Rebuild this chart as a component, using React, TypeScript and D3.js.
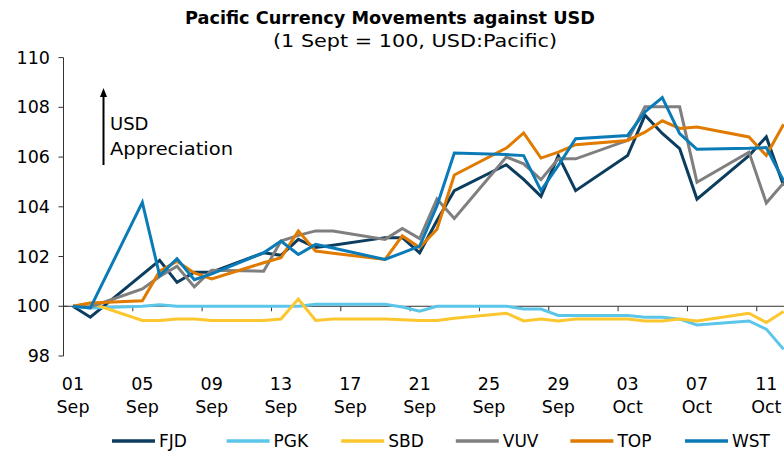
import React from 'react';
import * as d3 from 'd3';

const width = 784;
const height = 452;

// business days, 1 Sept = 100
const dates = [
  '2022-09-01', '2022-09-02', '2022-09-05', '2022-09-06', '2022-09-07', '2022-09-08', '2022-09-09',
  '2022-09-12', '2022-09-13', '2022-09-14', '2022-09-15', '2022-09-16', '2022-09-19', '2022-09-20',
  '2022-09-21', '2022-09-22', '2022-09-23', '2022-09-26', '2022-09-27', '2022-09-28', '2022-09-29',
  '2022-09-30', '2022-10-03', '2022-10-04', '2022-10-05', '2022-10-06', '2022-10-07', '2022-10-10',
  '2022-10-11', '2022-10-12',
];

const fjd = [100, 99.56, null, 101.85, 100.96, 101.37, 101.37, 102.15, 102.05, 102.69, 102.36, 102.45,
  102.76, 102.76, 102.15, 103.45, 104.65, 105.69, 105.1, 104.42, 106.06, 104.65, 106.06, 107.68,
  106.95, 106.34, 104.31, 106.06, 106.81, 104.85];
const pgk = [100, 99.93, 100.0, 100.06, 100.0, 100.0, 100.0, 100.0, 100.0, 100.0, 100.08, 100.08,
  100.08, 99.97, 99.8, 100.0, 100.0, 100.0, 99.89, 99.89, 99.63, 99.63, 99.63, 99.56, 99.56, 99.48,
  99.25, 99.41, 99.08, 98.27];
const sbd = [100, 100.13, 99.43, 99.43, 99.49, 99.49, 99.43, 99.43, 99.49, 100.29, 99.43, 99.49,
  99.49, 99.46, 99.43, 99.43, 99.52, 99.72, 99.41, 99.49, 99.41, 99.49, 99.49, 99.41, 99.41, 99.49,
  99.41, 99.72, 99.35, 99.79];
const vuv = [100, 99.97, 100.7, 101.2, 101.61, 100.78, 101.45, 101.41, 102.62, 102.85, 103.03, 103.03,
  102.69, 103.13, 102.72, 104.31, 103.53, 106.0, 105.73, 105.09, 105.93, 105.93, 106.67, 108.02,
  108.02, 108.02, 104.99, 106.2, 104.15, 104.96];
const top = [100, 100.13, 100.22, 101.41, 101.81, 101.34, 101.1, 101.75, 101.95, 103.03, 102.22, 102.13,
  101.88, 102.83, 102.36, 103.1, 105.28, 106.36, 106.97, 105.96, 106.2, 106.5, 106.67, 107.0,
  107.46, 107.15, 107.21, 106.81, 106.06, 107.32];
const wst = [100, 99.93, 104.18, 101.23, 101.91, 101.07, 101.3, 102.15, 102.62, 102.08, 102.49, 102.34,
  101.88, 102.15, 102.42, 104.04, 106.16, 106.1, 106.06, 104.65, 105.66, 106.74, 106.87, 107.82,
  108.39, 106.94, 106.31, 106.35, 106.38, 105.05];

const currencies = ['FJD', 'PGK', 'SBD', 'VUV', 'TOP', 'WST'];
const seriesValues = [fjd, pgk, sbd, vuv, top, wst];
const colors = ['#0c3d5e', '#5cc6ea', '#fcc62e', '#7f7f7f', '#e07b00', '#0b7bb8'];

const labelDates = [
  '2022-09-01', '2022-09-05', '2022-09-09', '2022-09-13', '2022-09-17', '2022-09-21',
  '2022-09-25', '2022-09-29', '2022-10-03', '2022-10-07', '2022-10-11',
];
const yTicks = [98, 100, 102, 104, 106, 108, 110];

const parse = d3.timeParse('%Y-%m-%d');
const fmtDay = d3.timeFormat('%d');
const fmtMon = d3.timeFormat('%b');

const font = '"DejaVu Sans", Verdana, sans-serif';

export default function App() {
  const x = d3.scaleTime()
    .domain([parse('2022-09-01'), parse('2022-10-11')])
    .range([73, 766.3]);
  const y = d3.scaleLinear().domain([98, 110]).range([356, 57.6]);
  const dayW = x(parse('2022-09-02')) - x(parse('2022-09-01'));

  const line = d3.line<any>()
    .x(d => x(d.date))
    .y(d => y(d.value));

  const series = currencies.map((name, i) => ({
    name,
    color: colors[i],
    points: dates
      .map((s, j) => ({ date: parse(s), value: seriesValues[i][j] }))
      .filter(p => p.value != null),
  }));

  const axisColor = '#333';
  const y0 = y(100);
  const axisX = 63.5;

  // annotation arrow
  const ax = 103.5;
  const tipY = 88;

  return (
    <svg width={width} height={height} style={{ position: 'absolute', left: 0, top: 0 }}
      fontFamily={font}>
      <rect width={width} height={height} fill="#fff" />
      <text x={185} y={24} fontSize={17} fontWeight="bold" textLength={410}
        lengthAdjust="spacingAndGlyphs" fill="#000">Pacific Currency Movements against USD</text>
      <text x={273} y={47} fontSize={17} textLength={284} lengthAdjust="spacingAndGlyphs"
        fill="#000">(1 Sept = 100, USD:Pacific)</text>

      {/* y axis */}
      <line x1={axisX} x2={axisX} y1={y(110)} y2={y(98)} stroke={axisColor} strokeWidth={1} />
      {yTicks.map(t => (
        <g key={t}>
          <line x1={axisX - 5} x2={t === 100 ? axisX + 4 : axisX} y1={y(t)} y2={y(t)}
            stroke={axisColor} />
          <text x={50} y={y(t) + 6} fontSize={17.5} textAnchor="end" fill="#000">{t}</text>
        </g>
      ))}

      {/* x axis on 100 line */}
      <line x1={axisX} x2={width} y1={y0} y2={y0} stroke={axisColor} />
      {labelDates.slice(0, 10).map(s => {
        const tx = x(parse(s)) + 3.45 * dayW;
        return <line key={s} x1={tx} x2={tx} y1={y0} y2={y0 + 5} stroke={axisColor} />;
      })}
      {labelDates.map(s => {
        const d = parse(s);
        return (
          <text key={s} x={x(d)} fontSize={17.5} textAnchor="middle" fill="#000">
            <tspan x={x(d)} y={390}>{fmtDay(d)}</tspan>
            <tspan x={x(d)} y={413}>{fmtMon(d)}</tspan>
          </text>
        );
      })}

      {/* series */}
      {series.map(s => (
        <path key={s.name} d={line(s.points) || ''} fill="none" stroke={s.color}
          strokeWidth={3} strokeLinejoin="miter" />
      ))}

      {/* annotation */}
      <line x1={ax} x2={ax} y1={165} y2={tipY + 6} stroke="#000" strokeWidth={2} />
      <path d={`M${ax},${tipY} L${ax + 3.5},${tipY + 9} L${ax - 3.5},${tipY + 9} Z`} fill="#000" />
      <text x={110} y={130} fontSize={18} fill="#000">USD</text>
      <text x={110} y={155} fontSize={18} fill="#000" textLength={123}
        lengthAdjust="spacingAndGlyphs">Appreciation</text>

      {/* legend */}
      {series.map((s, i) => {
        const lx = 112 + i * 114.6;
        return (
          <g key={s.name}>
            <line x1={lx} x2={lx + 43} y1={441} y2={441} stroke={s.color} strokeWidth={3.5} />
            <text x={lx + 47} y={447} fontSize={17} fill="#000">{s.name}</text>
          </g>
        );
      })}
    </svg>
  );
}
